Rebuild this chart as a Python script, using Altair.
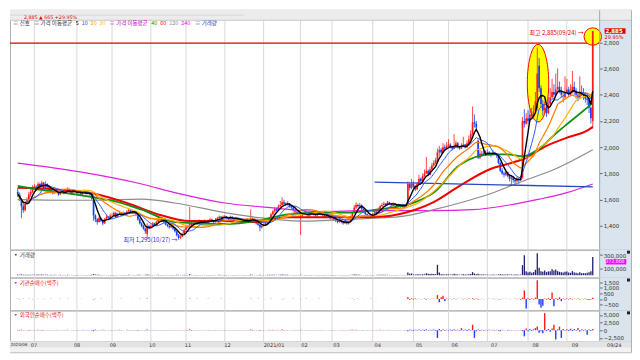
import altair as alt
import pandas as pd

# ---------------- daily candles (open, high, low, close), one list per month ----------------
JUN20 = [(1660,1690,1620,1640),(1640,1655,1590,1610),(1600,1610,1460,1550),(1550,1580,1500,1520),(1520,1590,1510,1570),(1570,1620,1560,1600),(1600,1660,1590,1640),(1640,1680,1620,1660),(1660,1710,1650,1690)]
JUL20 = [(1690,1720,1680,1700),(1700,1710,1670,1690),(1690,1735,1685,1720),(1720,1730,1690,1700),(1700,1745,1695,1730),(1730,1735,1680,1690),(1690,1740,1685,1720),(1720,1725,1690,1700),(1700,1705,1670,1680),(1680,1690,1650,1660),(1660,1670,1640,1650),(1650,1685,1645,1670),(1670,1680,1650,1660),(1660,1665,1630,1640),(1640,1675,1635,1660),(1660,1685,1655,1670),(1670,1675,1640,1650),(1650,1670,1645,1660),(1660,1695,1655,1680),(1680,1685,1650,1660),(1660,1665,1640,1650),(1650,1680,1645,1670),(1670,1675,1650,1660)]
AUG20 = [(1660,1670,1640,1650),(1650,1675,1645,1660),(1660,1665,1630,1640),(1640,1660,1635,1650),(1650,1670,1645,1660),(1660,1665,1640,1645),(1645,1660,1640,1650),(1650,1655,1630,1640),(1640,1645,1600,1610),(1600,1610,1440,1480),(1480,1490,1430,1450),(1450,1460,1410,1430),(1430,1475,1425,1460),(1460,1465,1430,1440),(1440,1450,1405,1420),(1420,1460,1415,1450),(1450,1485,1445,1470),(1470,1475,1450,1460),(1460,1495,1455,1480)]
SEP20 = [(1480,1495,1465,1480),(1480,1510,1475,1500),(1500,1505,1460,1470),(1470,1500,1465,1490),(1490,1515,1485,1500),(1500,1505,1470,1480),(1480,1510,1475,1500),(1500,1505,1480,1490),(1490,1520,1485,1510),(1510,1535,1505,1520),(1520,1525,1495,1500),(1500,1520,1495,1510),(1510,1515,1490,1500),(1500,1505,1480,1490),(1490,1495,1440,1450),(1450,1460,1410,1420),(1420,1430,1390,1400),(1400,1410,1370,1380),(1380,1390,1340,1360),(1340,1420,1300,1400),(1400,1410,1375,1390)]
OCT20 = [(1390,1410,1385,1400),(1400,1430,1395,1420),(1420,1425,1400,1410),(1410,1440,1405,1430),(1430,1465,1425,1450),(1450,1470,1440,1460),(1460,1465,1435,1440),(1440,1450,1420,1430),(1430,1435,1405,1410),(1410,1415,1390,1400),(1400,1405,1380,1390),(1390,1410,1385,1400),(1400,1405,1370,1380),(1380,1385,1350,1360),(1360,1365,1320,1330),(1330,1340,1295,1310),(1310,1330,1300,1320),(1320,1350,1315,1340),(1340,1380,1335,1370)]
NOV20 = [(1370,1400,1365,1390),(1390,1410,1380,1400),(1400,1545,1395,1420),(1420,1430,1400,1410),(1410,1430,1405,1420),(1420,1440,1415,1430),(1430,1435,1410,1420),(1420,1450,1415,1440),(1440,1445,1420,1430),(1430,1435,1410,1420),(1420,1450,1415,1440),(1440,1445,1425,1430),(1430,1450,1425,1440),(1440,1460,1435,1450),(1450,1455,1430,1440),(1440,1445,1420,1430),(1430,1460,1425,1450),(1450,1470,1445,1460),(1460,1480,1455,1470),(1470,1475,1450,1460),(1460,1480,1455,1470)]
DEC20 = [(1470,1485,1460,1470),(1470,1475,1450,1460),(1460,1465,1440,1450),(1450,1480,1445,1470),(1470,1475,1450,1460),(1460,1465,1440,1450),(1450,1470,1445,1460),(1460,1465,1435,1440),(1440,1460,1435,1450),(1450,1455,1430,1440),(1440,1445,1420,1430),(1430,1450,1425,1440),(1440,1460,1435,1450),(1450,1455,1425,1430),(1430,1525,1425,1460),(1460,1465,1440,1450),(1450,1455,1430,1440),(1440,1445,1410,1420),(1420,1425,1400,1410),(1410,1415,1360,1390),(1390,1410,1380,1400)]
JAN21 = [(1400,1420,1395,1410),(1410,1430,1400,1420),(1420,1450,1415,1440),(1440,1470,1435,1460),(1460,1500,1455,1490),(1490,1520,1480,1510),(1510,1545,1500,1530),(1530,1540,1510,1520),(1520,1565,1515,1550),(1550,1590,1540,1560),(1560,1620,1555,1580),(1580,1600,1560,1570),(1570,1580,1550,1560),(1560,1590,1555,1570),(1570,1575,1540,1550),(1550,1560,1530,1540),(1540,1545,1510,1520),(1520,1530,1500,1510),(1510,1515,1490,1500),(1500,1505,1480,1490)]
FEB21 = [(1470,1490,1330,1480),(1480,1500,1475,1490),(1490,1510,1485,1500),(1500,1505,1480,1490),(1490,1495,1470,1480),(1480,1500,1475,1490),(1490,1510,1485,1500),(1500,1505,1480,1490),(1490,1495,1470,1480),(1480,1500,1475,1490),(1490,1510,1485,1500),(1500,1505,1480,1490),(1490,1495,1470,1480),(1480,1485,1460,1470),(1470,1490,1465,1480),(1480,1485,1460,1470),(1470,1475,1450,1460)]
MAR21 = [(1460,1470,1445,1460),(1460,1465,1440,1450),(1450,1455,1430,1440),(1440,1445,1420,1430),(1430,1450,1425,1440),(1440,1445,1420,1430),(1430,1435,1410,1420),(1420,1440,1415,1430),(1430,1435,1410,1420),(1420,1440,1410,1430),(1430,1480,1425,1470),(1470,1510,1465,1500),(1500,1560,1495,1540),(1540,1580,1530,1560),(1560,1570,1540,1550),(1550,1575,1545,1560),(1560,1565,1520,1530),(1530,1535,1500,1510),(1510,1515,1480,1490),(1490,1495,1470,1480),(1480,1485,1460,1470),(1470,1490,1465,1480)]
APR21 = [(1480,1500,1475,1490),(1490,1510,1485,1500),(1500,1530,1495,1520),(1520,1540,1510,1530),(1530,1560,1525,1550),(1550,1575,1545,1560),(1560,1585,1555,1570),(1570,1575,1550,1560),(1560,1590,1555,1580),(1580,1585,1560,1570),(1570,1575,1550,1560),(1560,1580,1555,1570),(1570,1575,1550,1560),(1560,1565,1540,1550),(1550,1570,1545,1560),(1560,1565,1540,1550),(1550,1570,1545,1560),(1560,1565,1540,1550),(1550,1570,1545,1560),(1560,1740,1555,1720),(1720,1730,1670,1690),(1690,1760,1680,1720)]
MAY21 = [(1720,1740,1690,1700),(1700,1710,1665,1680),(1680,1735,1675,1720),(1720,1790,1715,1760),(1760,1770,1730,1740),(1740,1800,1735,1780),(1780,1830,1770,1800),(1800,1925,1795,1820),(1820,1830,1780,1790),(1790,1850,1785,1830),(1830,1880,1820,1860),(1860,1900,1850,1880),(1880,1920,1870,1900),(1890,1990,1880,1960),(1960,2010,1930,1980),(1980,1995,1950,1960),(1960,2030,1955,2000),(2000,2020,1980,1990),(1990,2040,1985,2010)]
JUN21 = [(2010,2060,2000,2020),(2020,2030,1990,2000),(2000,2010,1975,1990),(1990,2100,1985,2010),(2010,2050,2000,2030),(2030,2040,1990,2000),(2000,2010,1980,1990),(1990,2030,1985,2010),(2010,2080,2000,2020),(2020,2025,1990,2000),(2000,2050,1995,2030),(2030,2090,2020,2060),(2060,2130,2050,2100),(2100,2310,2090,2190),(2190,2250,2150,2180),(2180,2200,2120,2150),(2050,2060,1910,1920),(1920,1980,1910,1950),(1950,1970,1925,1940),(1940,1990,1935,1960),(1960,1975,1940,1950)]
JUL21 = [(1950,1985,1940,1960),(1960,1970,1935,1950),(1950,1960,1925,1940),(1940,1980,1935,1960),(1960,1965,1940,1950),(1950,1955,1920,1940),(1940,1945,1870,1880),(1880,1890,1810,1820),(1820,1840,1790,1800),(1800,1815,1770,1790),(1790,1830,1780,1810),(1810,1815,1770,1780),(1780,1790,1740,1760),(1760,1790,1705,1770),(1770,1775,1730,1750),(1750,1760,1710,1740),(1740,1775,1730,1760),(1760,1770,1720,1750),(1750,1780,1745,1760),(1770,2230,1760,2200),(2200,2290,2150,2180),(2180,2260,2170,2220)]
AUG21 = [(2220,2280,2180,2200),(2200,2290,2190,2250),(2250,2300,2220,2240),(2240,2320,2230,2270),(2270,2420,2260,2350),(2300,2760,2280,2560),(2620,2680,2420,2450),(2450,2470,2300,2330),(2330,2360,2240,2280),(2280,2350,2260,2300),(2300,2320,2230,2260),(2260,2380,2250,2330),(2330,2450,2320,2380),(2380,2520,2370,2420),(2420,2480,2380,2400),(2400,2560,2390,2440),(2440,2600,2430,2460),(2460,2500,2410,2430),(2430,2460,2380,2400),(2380,2420,2340,2380),(2380,2540,2370,2420)]
SEP21 = [(2420,2520,2410,2440),(2440,2460,2380,2400),(2400,2480,2390,2420),(2420,2580,2410,2460),(2460,2500,2400,2430),(2430,2450,2370,2400),(2400,2420,2350,2380),(2380,2540,2370,2420),(2420,2470,2390,2410),(2410,2450,2360,2390),(2390,2420,2340,2370),(2370,2400,2320,2360),(2360,2380,2260,2300),(2300,2310,2180,2220),(2200,2885,2140,2885)]

# ---------------- volume (thousand shares) ----------------
VOL_JUN20 = [8,6,12,7,5,6,5,4,6]
VOL_JUL20 = [6,5,8,5,9,6,7,4,3,4,3,4,3,3,4,3,3,3,4,3,3,3,3]
VOL_AUG20 = [3,3,3,3,3,3,3,3,4,14,8,5,4,3,3,3,3,3,3]
VOL_SEP20 = [3,3,3,3,3,3,3,3,3,4,3,3,3,3,4,4,3,3,4,8,4]
VOL_OCT20 = [3,3,3,3,4,3,3,3,3,3,3,3,3,3,4,5,4,3,4]
VOL_NOV20 = [3,3,12,4,3,3,3,3,3,3,3,3,3,3,3,3,3,3,4,3,3]
VOL_DEC20 = [3,3,3,3,3,3,3,3,3,3,3,3,3,3,8,4,3,3,3,5,3]
VOL_JAN21 = [3,3,4,5,6,5,6,4,6,7,9,5,4,4,3,3,3,3,3,3]
VOL_FEB21 = [6,3,3,3,3,3,3,3,3,3,3,3,3,3,3,3,3]
VOL_MAR21 = [3,3,3,3,3,3,3,3,3,3,5,6,9,8,5,4,3,3,3,3,3,3]
VOL_APR21 = [3,3,4,4,5,5,5,4,5,4,3,3,3,3,3,3,3,3,3,40,20,25]
VOL_MAY21 = [10,8,12,15,10,14,12,30,20,18,20,16,14,155,40,12,14,10,12]
VOL_JUN21 = [10,8,8,20,12,8,7,9,15,8,10,14,18,45,25,15,20,10,8,9,8]
VOL_JUL21 = [7,6,6,8,6,6,12,15,10,8,9,8,8,10,7,8,8,7,8,150,300,60]
VOL_AUG21 = [40,50,35,45,80,330,110,60,50,70,45,55,60,90,70,85,60,50,45,40,50]
VOL_SEP21 = [55,40,35,60,40,35,30,45,30,30,30,35,45,60,272]

# ---------------- institutional net buying ----------------
INST_JUN20 = [20,-30,0,15,-10,0,10,0,-20]
INST_JUL20 = [0,-15,10,0,0,-20,10,0,0,15,0,-10,0,0,10,0,-10,0,20,0,0,-10,0]
INST_AUG20 = [0,0,10,0,0,-10,0,0,0,-40,20,0,0,10,0,0,-10,0,0]
INST_SEP20 = [0,0,0,-10,0,10,0,0,0,0,0,-10,0,0,0,10,0,0,0,30,0]
INST_OCT20 = [0,0,0,0,-10,0,0,0,0,0,0,0,0,10,0,-10,0,0,0]
INST_NOV20 = [0,0,40,-10,0,0,10,0,-10,0,0,0,10,0,0,-10,0,0,0,10,0]
INST_DEC20 = [-10,0,0,10,0,0,-10,0,0,10,0,0,0,0,20,-10,0,0,10,0,0]
INST_JAN21 = [0,10,0,-10,20,0,-10,0,10,0,-20,10,0,0,0,0,10,0,0,0]
INST_FEB21 = [-20,0,0,10,0,0,0,-10,0,0,10,0,0,0,0,-10,0]
INST_MAR21 = [0,0,0,0,-10,0,0,0,0,10,0,20,-20,0,10,0,0,-10,0,0,0,10]
INST_APR21 = [0,0,10,0,0,-10,0,0,10,0,0,0,0,-10,0,0,0,0,0,150,-80,60]
INST_MAY21 = [-40,30,-20,20,-30,10,40,-50,20,-30,10,20,-10,340,-290,150,290,-200,30]
INST_JUN21 = [-20,10,-30,40,-20,10,-10,20,-30,10,-20,30,-10,60,-40,20,-60,-30,10,-20,10]
INST_JUL21 = [-10,20,-10,10,-20,10,-30,-20,10,-10,10,-10,-20,10,-10,10,-20,10,-60,120,770,-860]
INST_AUG21 = [60,-80,40,-50,120,1690,-500,-800,-600,40,-60,80,-100,570,-660,60,-80,150,-200,40,-60]
INST_SEP21 = [30,-50,60,-40,20,-30,40,-50,20,-30,40,-60,-80,-40,100]

# ---------------- foreign net buying ----------------
FORN_JUN20 = [150,-120,200,-80,100,60,-150,120,-60]
FORN_JUL20 = [100,-80,150,60,-200,120,-60,80,-100,50,70,-60,120,-80,40,-50,100,-70,150,-40,60,-90,80]
FORN_AUG20 = [-60,90,-40,120,-70,50,-80,100,-120,-300,200,-100,80,-60,120,-90,60,-50,100]
FORN_SEP20 = [80,-60,100,-90,150,-70,60,-40,120,-80,70,-100,90,-60,-150,100,-80,60,-120,250,-70]
FORN_OCT20 = [90,-60,120,-80,70,-100,60,-50,80,-90,100,-60,70,-80,-120,90,60,-70,110]
FORN_NOV20 = [-60,80,300,-150,70,-50,90,-80,60,-70,100,-60,80,-90,70,-50,110,-60,80,-70,90]
FORN_DEC20 = [-50,70,-80,90,-60,100,-70,50,-90,80,-60,70,-80,90,200,-100,60,-70,80,-150,60]
FORN_JAN21 = [70,-60,100,120,-80,150,-60,90,130,-100,200,-120,80,-90,60,-70,50,-80,60,-50]
FORN_FEB21 = [150,-60,80,-70,60,-50,90,-80,70,-60,80,-70,60,-50,70,-60,50]
FORN_MAR21 = [-60,70,-80,60,-70,50,-90,80,-60,70,150,200,-100,120,-80,90,-110,-70,60,-80,70,-60]
FORN_APR21 = [80,-60,100,-70,120,-80,90,-60,110,-90,70,-80,60,-70,80,-60,70,-50,60,-300,200,-150]
FORN_MAY21 = [-200,150,-180,220,-160,200,-250,300,-200,180,-150,250,-200,-2500,400,-300,250,-200,150]
FORN_JUN21 = [-150,200,-250,300,-200,150,-180,700,-150,200,-250,300,-200,1800,-2500,-300,200,-250,150,-180,120]
FORN_JUL21 = [-120,150,-100,180,-150,120,-200,-300,150,-120,100,-150,120,-100,80,-120,100,-90,110,-300,-2000,600]
FORN_AUG21 = [-300,400,-250,300,700,1200,-800,-300,-1000,5600,-300,400,-500,600,1800,-3000,300,1200,-2500,400,-200]
FORN_SEP21 = [300,-250,500,-300,400,-200,700,-400,300,-200,250,-1500,200,-250,400]

# ---------------- month axis ----------------
MONTH_START = [0, 9, 32, 51, 72, 91, 112, 133, 153, 170, 192, 214, 233, 254, 276, 297]
MONTH_LABEL = ["2020/06", "07", "08", "09", "10", "11", "12", "2021/01", "02", "03", "04", "05", "06", "07", "08", "09"]
LAST_DATE = "09/24"
LOW_DATE = "10/27"

# ---------------- long moving averages (day index, price) ----------------
MA40_IDX = [0, 9, 24, 41, 50, 67, 85, 112, 129, 146, 163, 180, 194, 215, 225, 239, 256, 265, 273, 282, 291, 299, 311]
MA40_VAL = [1705, 1683, 1654, 1618, 1596, 1524, 1430, 1415, 1437, 1488, 1502, 1502, 1524, 1582, 1654, 1865, 1945, 1945, 1930, 1988, 2104, 2198, 2336]
MA60_IDX = [0, 16, 41, 59, 76, 93, 110, 129, 146, 163, 180, 198, 215, 225, 239, 256, 265, 273, 286, 299, 308, 311]
MA60_VAL = [1691, 1683, 1647, 1575, 1488, 1437, 1437, 1430, 1466, 1466, 1466, 1473, 1524, 1582, 1705, 1836, 1872, 1908, 2010, 2082, 2126, 2155]
MA120_IDX = [0, 26, 40, 67, 85, 112, 129, 153, 180, 208, 225, 239, 256, 273, 291, 311]
MA120_VAL = [1600, 1596, 1596, 1604, 1575, 1502, 1466, 1437, 1451, 1473, 1524, 1575, 1647, 1741, 1836, 1981]
MA240_IDX = [0, 33, 67, 85, 112, 138, 163, 189, 225, 246, 266, 282, 297, 311]
MA240_VAL = [1879, 1814, 1720, 1654, 1575, 1538, 1510, 1517, 1517, 1524, 1560, 1604, 1654, 1720]
TREND_IDX = [193, 311]
TREND_VAL = [1734, 1698]
HLINE = 2793
ELLIPSE_AT = (281.4, 2488)
PRICE_TICKS = [1400, 1600, 1800, 2000, 2200, 2400, 2600, 2800]

# ---------------- tables ----------------
def flat(parts):
    return [v for p in parts for v in p]

candles = flat([JUN20, JUL20, AUG20, SEP20, OCT20, NOV20, DEC20, JAN21, FEB21, MAR21, APR21, MAY21, JUN21, JUL21, AUG21, SEP21])
px = pd.DataFrame(candles, columns=["o", "h", "l", "c"])
px["i"] = range(len(px))
px["dir"] = ["up" if c >= o else "dn" for o, c in zip(px["o"], px["c"])]

vol = flat([VOL_JUN20, VOL_JUL20, VOL_AUG20, VOL_SEP20, VOL_OCT20, VOL_NOV20, VOL_DEC20, VOL_JAN21, VOL_FEB21, VOL_MAR21, VOL_APR21, VOL_MAY21, VOL_JUN21, VOL_JUL21, VOL_AUG21, VOL_SEP21])
vdf = pd.DataFrame({"i": range(len(vol)), "v": [x * 1000 for x in vol]})
inst = flat([INST_JUN20, INST_JUL20, INST_AUG20, INST_SEP20, INST_OCT20, INST_NOV20, INST_DEC20, INST_JAN21, INST_FEB21, INST_MAR21, INST_APR21, INST_MAY21, INST_JUN21, INST_JUL21, INST_AUG21, INST_SEP21])
idf = pd.DataFrame({"i": range(len(inst)), "v": inst})
idf["s"] = ["p" if v >= 0 else "n" for v in idf["v"]]
forn = flat([FORN_JUN20, FORN_JUL20, FORN_AUG20, FORN_SEP20, FORN_OCT20, FORN_NOV20, FORN_DEC20, FORN_JAN21, FORN_FEB21, FORN_MAR21, FORN_APR21, FORN_MAY21, FORN_JUN21, FORN_JUL21, FORN_AUG21, FORN_SEP21])
fdf = pd.DataFrame({"i": range(len(forn)), "v": forn})
fdf["s"] = ["p" if v >= 0 else "n" for v in fdf["v"]]
months = pd.DataFrame({"i": MONTH_START, "lab": MONTH_LABEL})
one = pd.DataFrame({"k": [0]})

last = px.iloc[[-1]].copy()
prev_close = int(px["c"].iloc[-2])
last["chg"] = last["c"] - prev_close
last["pct"] = (last["c"] - prev_close) / prev_close * 100
lastv = vdf.iloc[[-1]]

W, PW = 624, 592
PRICE_H, VOL_H, INST_H, FORN_H, DATE_H = 241, 28, 33, 31, 11
XDOM = [-1.5, 329.0]
KFONT = "Noto Sans CJK KR"

def X():
    return alt.X("i:Q", scale=alt.Scale(domain=XDOM, nice=False, zero=False), axis=None)

def grid():
    return alt.Chart(months).transform_filter("datum.i > 0").mark_rule(color="#d9d9d9", strokeWidth=1).encode(x=X())

def strip(h):
    return alt.Chart(one).mark_rect(color="#dae4ef").encode(x=alt.value(PW), x2=alt.value(W), y=alt.value(0), y2=alt.value(h))

def corner():
    return alt.Chart(one).mark_rect(color="#222222").encode(x=alt.value(W - 4), x2=alt.value(W - 1), y=alt.value(1), y2=alt.value(4))

def axis(vals):
    return alt.Axis(orient="right", offset=-(W - PW), values=vals, format=",d", title=None, labelFontSize=5.5,
                    labelColor="#333", tickSize=3, tickColor="#666", domainColor="#9aa8b8", labelPadding=1,
                    zindex=3, grid=False, labelFont="DejaVu Sans", labelFlush=False, labelOverlap=False)

PSCALE = alt.Scale(domain=[1219.5, 3046.5], nice=False, zero=False)
PAX = axis(PRICE_TICKS)

def PY(f):
    return alt.Y(f, type="quantitative", scale=PSCALE, axis=PAX)

def sampled(idx, val, color, width):
    d = pd.DataFrame({"i": idx, "v": val})
    return alt.Chart(d).mark_line(color=color, strokeWidth=width, interpolate="monotone").encode(x=X(), y=PY("v"))

def ma(n, color, width):
    return alt.Chart(px).transform_window(v="mean(c)", frame=[-(n - 1), 0], sort=[alt.SortField("i")]).mark_line(
        color=color, strokeWidth=width).encode(x=X(), y=PY("v"))

cdir = alt.Color("dir:N", scale=alt.Scale(domain=["up", "dn"], range=["#ff1a1a", "#1a3cff"]), legend=None)
wick = alt.Chart(px).mark_rule(strokeWidth=1, opacity=0.8).encode(x=X(), y=PY("l"), y2="h", color=cdir)
body = alt.Chart(px).mark_bar(size=1.7).encode(x=X(), y=PY("o"), y2="c", color=cdir)

hline = alt.Chart(one).mark_rule(color="#e00000", strokeWidth=1.2).encode(
    y=alt.Y(datum=HLINE, type="quantitative", scale=PSCALE, axis=PAX), x=alt.value(0), x2=alt.value(PW))

ELL = "M0,-1C0.152,-1,0.276,-0.552,0.276,0C0.276,0.552,0.152,1,0,1C-0.152,1,-0.276,0.552,-0.276,0C-0.276,-0.552,-0.152,-1,0,-1Z"
ell = alt.Chart(pd.DataFrame({"i": [ELLIPSE_AT[0]], "v": [ELLIPSE_AT[1]]})).mark_point(
    shape=ELL, size=6084, filled=True, fill="#ffff00", stroke="#ff0000", strokeWidth=1, opacity=1).encode(x=X(), y=PY("v"))

circ = alt.Chart(last).transform_calculate(cy="datum.h - 42").mark_point(
    shape="circle", size=306, filled=True, fill="#ffff00", stroke="#ff0000", strokeWidth=1, opacity=1).encode(x=X(), y=PY("cy:Q"))

trend = alt.Chart(pd.DataFrame({"i": TREND_IDX, "v": TREND_VAL})).mark_line(color="#2a48c0", strokeWidth=1.3).encode(x=X(), y=PY("v"))

lowrow = px.loc[[px["l"].idxmin()]]
lowtxt = alt.Chart(lowrow).transform_calculate(
    t="'최저 ' + format(datum.l, ',') + '(" + LOW_DATE + ") →'").mark_text(
    align="right", baseline="middle", dx=-1, fontSize=6, font=KFONT, color="#3030d0").encode(x=X(), y=PY("l"), text="t:N")
hightxt = alt.Chart(last).transform_calculate(
    t="'최고 ' + format(datum.h, ',') + '(" + LAST_DATE + ") →'").mark_text(
    align="right", baseline="middle", dx=-9, dy=2, fontSize=6, font=KFONT, color="#e00000").encode(x=X(), y=PY("h"), text="t:N")

BOX = "M-1,-0.26L1,-0.26L1,0.26L-1,0.26Z"
pbox = alt.Chart(last).mark_point(shape=BOX, size=441, filled=True, fill="#e00000", opacity=1).encode(
    x=alt.value(PW + 16), y=PY("c"))
ptxt = alt.Chart(last).transform_calculate(t="format(datum.c, ',')").mark_text(
    fontSize=5.5, color="white", font="DejaVu Sans", fontWeight="bold").encode(x=alt.value(PW + 15), y=PY("c"), text="t:N")
ppct = alt.Chart(last).transform_calculate(t="format(datum.pct, '.2f') + '%'").mark_text(
    fontSize=5, color="#e00000", font="DejaVu Sans", dy=6).encode(x=alt.value(PW + 15), y=PY("c"), text="t:N")

toolbar = alt.Chart(one).mark_rect(color="#ececec").encode(x=alt.value(0), x2=alt.value(W), y=alt.value(0), y2=alt.value(10.5))
toolline = alt.Chart(one).mark_rule(color="#c8c8c8").encode(x=alt.value(0), x2=alt.value(W), y=alt.value(10.5))
toolrow = alt.Chart(one).mark_rule(color="#d8d8d8").encode(x=alt.value(0), x2=alt.value(235), y=alt.value(5.3))
quote = alt.Chart(last).transform_calculate(
    t="format(datum.c, ',') + '  ▲ ' + format(datum.chg, ',') + '  +' + format(datum.pct, '.2f') + '%'").mark_text(
    align="left", baseline="middle", fontSize=4.8, font="DejaVu Sans", color="#e00000").encode(
    x=alt.value(14), y=alt.value(8), text="t:N")

LEG = [("≡ 신호", "#333333", 3), ("≡ 가격 이동평균", "#333333", 24), ("5", "#000000", 66), ("10", "#2040ff", 72),
       ("20", "#ff9900", 81), ("30", "#ffc000", 90), ("≡ 가격 이동평균", "#cc00cc", 100), ("40", "#009900", 142),
       ("60", "#ff0000", 151), ("120", "#888888", 160), ("240", "#ff00ff", 172), ("≡ 거래량", "#3030c0", 186)]
legend = [alt.Chart(one).mark_text(text=t, align="left", baseline="middle", fontSize=5.5, font=KFONT, color=c).encode(
    x=alt.value(x), y=alt.value(13.5)) for t, c, x in LEG]

price = alt.layer(
    grid(), strip(PRICE_H), hline, ell, circ, wick, body,
    sampled(MA240_IDX, MA240_VAL, "#e020e0", 1.2), sampled(MA120_IDX, MA120_VAL, "#8c8c8c", 1.2),
    sampled(MA60_IDX, MA60_VAL, "#f00000", 2.0), sampled(MA40_IDX, MA40_VAL, "#109010", 1.8), trend,
    ma(30, "#ffb000", 1.2), ma(20, "#ff7a00", 1.2), ma(10, "#2a5cff", 1.0), ma(5, "#000000", 1.4),
    lowtxt, hightxt, pbox, ptxt, ppct, toolbar, toolline, toolrow, quote, *legend
).properties(width=W, height=PRICE_H)

# ---- volume panel ----
VSCALE = alt.Scale(domain=[-36000, 382000], nice=False, zero=False)
VAX = axis([100000, 300000])
vbars = alt.Chart(vdf).mark_bar(size=1.3, color="#20206e").encode(
    x=X(), y=alt.Y("v:Q", scale=VSCALE, axis=VAX), y2=alt.Y2(datum=0))
vtitle = alt.Chart(one).mark_text(text="▪ 거래량", align="left", baseline="middle", fontSize=5.5, font=KFONT,
                                  color="#333333").encode(x=alt.value(3), y=alt.value(5))
vbox = alt.Chart(lastv).mark_point(shape=BOX, size=420, filled=True, fill="#ff00ff", opacity=1).encode(
    x=alt.value(PW + 17), y=alt.value(12.2))
vtxt = alt.Chart(lastv).transform_calculate(t="format(datum.v, ',')").mark_text(
    fontSize=4.6, color="white", font="DejaVu Sans", baseline="middle").encode(
    x=alt.value(PW + 16), y=alt.value(12.4), text="t:N")
volp = alt.layer(grid(), strip(VOL_H), vbars, vtitle, vbox, vtxt, corner()).properties(width=W, height=VOL_H)

def flow_panel(df, dom, ticks, title, h):
    sc = alt.Scale(domain=dom, nice=False, zero=False)
    col = alt.Color("s:N", scale=alt.Scale(domain=["p", "n"], range=["#ff1a1a", "#1a4cff"]), legend=None)
    bars = alt.Chart(df).mark_bar(size=1.4).encode(
        x=X(), y=alt.Y("v:Q", scale=sc, axis=axis(ticks)), y2=alt.Y2(datum=0), color=col)
    ttl = alt.Chart(one).mark_text(text=title, align="left", baseline="middle", fontSize=5.5, font=KFONT,
                                   color="#e02020").encode(x=alt.value(3), y=alt.value(5))
    return alt.layer(grid(), strip(h), bars, ttl, corner()).properties(width=W, height=h)

instp = flow_panel(idf, [-1026, 1924], [-500, 0, 500, 1000, 1500], "▪ 기관순매수(백주)", INST_H)
fornp = flow_panel(fdf, [-3600, 6500], [-2500, 0, 2500, 5000], "▪ 외국인순매수(백주)", FORN_H)

# ---- date strip ----
dbg = alt.Chart(one).mark_rect(color="#e3e3e3").encode(x=alt.value(0), x2=alt.value(W), y=alt.value(0), y2=alt.value(6.5))
sbg = alt.Chart(one).mark_rect(color="#f2f2f2").encode(x=alt.value(0), x2=alt.value(W), y=alt.value(6.5), y2=alt.value(DATE_H))
dlab = alt.Chart(months).transform_filter("datum.i > 0").mark_text(
    align="left", baseline="middle", dx=1, fontSize=5, font="DejaVu Sans", color="#333").encode(
    x=X(), y=alt.value(3.3), text="lab:N")
dfirst = alt.Chart(months).transform_filter("datum.i == 0").mark_text(
    align="left", baseline="middle", dx=-2, fontSize=4, font="DejaVu Sans", color="#333").encode(
    x=X(), y=alt.value(3.3), text="lab:N")
dlast = alt.Chart(one).mark_text(text=LAST_DATE, align="left", baseline="middle", fontSize=5, font="DejaVu Sans",
                                 color="#333").encode(x=alt.value(PW + 8), y=alt.value(3.3))
datep = alt.layer(dbg, sbg, dlab, dfirst, dlast).properties(width=W, height=DATE_H)

chart = alt.VConcatChart(vconcat=[price, volp, instp, fornp, datep], spacing=0, bounds="flush").properties(
    padding=0, background="white").configure_view(stroke="#b0b0b0", strokeWidth=1)

chart.save("out.html", embed_options={"renderer": "svg", "actions": False})
